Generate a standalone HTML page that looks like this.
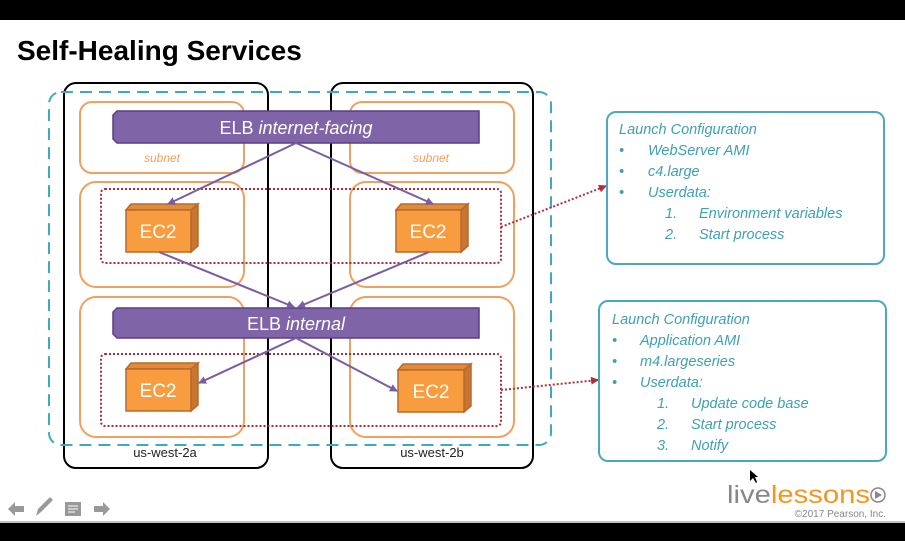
<!DOCTYPE html>
<html><head><meta charset="utf-8"><style>
body{margin:0;width:905px;height:541px;overflow:hidden;background:#fff;font-family:"Liberation Sans",sans-serif}
</style></head><body>
<svg width="905" height="541" xmlns="http://www.w3.org/2000/svg" font-family="Liberation Sans, sans-serif">
<defs>
<marker id="pa" markerWidth="8" markerHeight="8" refX="7" refY="4" orient="auto" markerUnits="userSpaceOnUse"><path d="M0,0 L8,4 L0,8 Z" fill="#7a5ca3"/></marker>
<marker id="ra" markerWidth="8" markerHeight="8" refX="7" refY="4" orient="auto" markerUnits="userSpaceOnUse"><path d="M0,0 L8,4 L0,8 Z" fill="#b0303a"/></marker>
</defs>
<rect x="0" y="0" width="905" height="20" fill="#000"/>
<rect x="0" y="523" width="905" height="18" fill="#000"/>
<line x1="0" y1="522" x2="905" y2="522" stroke="#888"/>
<text x="17" y="60" font-size="28" font-weight="bold" fill="#000">Self-Healing Services</text>

<rect x="64" y="83" width="204" height="385" rx="12" fill="none" stroke="#000" stroke-width="2"/>
<rect x="331" y="83" width="202" height="385" rx="12" fill="none" stroke="#000" stroke-width="2"/>
<text x="165" y="457" font-size="13" text-anchor="middle" fill="#222">us-west-2a</text>
<text x="432" y="457" font-size="13" text-anchor="middle" fill="#222">us-west-2b</text>
<rect x="49" y="92" width="502" height="353" rx="12" fill="none" stroke="#3fa9c0" stroke-width="2" stroke-dasharray="12,7"/>
<g fill="none" stroke="#f0a060" stroke-width="2">
<rect x="80" y="102" width="164" height="71" rx="12"/>
<rect x="80" y="182" width="164" height="105" rx="16"/>
<rect x="80" y="297" width="164" height="140" rx="16"/>
<rect x="350" y="102" width="164" height="71" rx="12"/>
<rect x="350" y="182" width="164" height="105" rx="16"/>
<rect x="350" y="297" width="164" height="140" rx="16"/>
</g>
<text x="162" y="162" font-size="12" font-style="italic" fill="#f0a060" text-anchor="middle">subnet</text>
<text x="431" y="162" font-size="12" font-style="italic" fill="#f0a060" text-anchor="middle">subnet</text>
<rect x="101" y="189" width="400" height="74" rx="4" fill="none" stroke="#a0303c" stroke-width="2" stroke-dasharray="2,2"/>
<rect x="101" y="354" width="400" height="72" rx="4" fill="none" stroke="#a0303c" stroke-width="2" stroke-dasharray="2,2"/>
<path d="M117,111 L479,111 L479,143 L117,143 L113,139 L113,115 Z" fill="#8064a8" stroke="#5a3f85" stroke-width="1.5"/>
<text x="296" y="134" font-size="18" fill="#fff" text-anchor="middle">ELB <tspan font-style="italic">internet-facing</tspan></text>
<path d="M117,308 L479,308 L479,338 L117,338 L113,334 L113,312 Z" fill="#8064a8" stroke="#5a3f85" stroke-width="1.5"/>
<text x="296" y="330" font-size="18" fill="#fff" text-anchor="middle">ELB <tspan font-style="italic">internal</tspan></text>
<g stroke="#b8692a" stroke-width="1.5">
<path d="M126,210 L131,204 L198,204 L191,210 Z" fill="#e08a3c"/><path d="M191,210 L198,204 L198,246 L191,252 Z" fill="#c87530"/><rect x="126" y="210" width="65" height="42" fill="#f89c40"/>
<path d="M396,210 L401,204 L468,204 L461,210 Z" fill="#e08a3c"/><path d="M461,210 L468,204 L468,246 L461,252 Z" fill="#c87530"/><rect x="396" y="210" width="65" height="42" fill="#f89c40"/>
<path d="M126,369 L131,363 L198,363 L191,369 Z" fill="#e08a3c"/><path d="M191,369 L198,363 L198,405 L191,411 Z" fill="#c87530"/><rect x="126" y="369" width="65" height="42" fill="#f89c40"/>
<path d="M398,370 L403,364 L471,364 L464,370 Z" fill="#e08a3c"/><path d="M464,370 L471,364 L471,406 L464,412 Z" fill="#c87530"/><rect x="398" y="370" width="66" height="42" fill="#f89c40"/>
</g>
<g font-size="19" fill="#fff" text-anchor="middle">
<text x="158" y="238">EC2</text><text x="428" y="238">EC2</text>
<text x="158" y="397">EC2</text><text x="431" y="398">EC2</text>
</g>
<g stroke="#7a5ca3" stroke-width="2" fill="none">
<line x1="296" y1="143" x2="168" y2="204" marker-end="url(#pa)"/>
<line x1="296" y1="143" x2="433" y2="204" marker-end="url(#pa)"/>
<line x1="159" y1="252" x2="294" y2="307" marker-end="url(#pa)"/>
<line x1="429" y1="252" x2="298" y2="307" marker-end="url(#pa)"/>
<line x1="296" y1="338" x2="199" y2="383" marker-end="url(#pa)"/>
<line x1="296" y1="338" x2="397" y2="391" marker-end="url(#pa)"/>
</g>
<g stroke="#b0303a" stroke-width="2" stroke-dasharray="2,2" fill="none">
<line x1="501" y1="227" x2="606" y2="186" marker-end="url(#ra)"/>
<line x1="501" y1="390" x2="598" y2="380" marker-end="url(#ra)"/>
</g>
<rect x="607" y="112" width="277" height="152" rx="9" fill="none" stroke="#4aa9bf" stroke-width="2"/>
<rect x="599" y="301" width="287" height="160" rx="9" fill="none" stroke="#4aa9bf" stroke-width="2"/>
<g font-size="14.5" font-style="italic" fill="#3f9fb4">
<text x="619" y="134">Launch Configuration</text>
<text x="619" y="155">•</text><text x="648" y="155">WebServer AMI</text>
<text x="619" y="176">•</text><text x="648" y="176">c4.large</text>
<text x="619" y="197">•</text><text x="648" y="197">Userdata:</text>
<text x="665" y="218">1.</text><text x="699" y="218">Environment variables</text>
<text x="665" y="239">2.</text><text x="699" y="239">Start process</text>
<text x="612" y="324">Launch Configuration</text>
<text x="612" y="345">•</text><text x="640" y="345">Application AMI</text>
<text x="612" y="366">•</text><text x="640" y="366">m4.largeseries</text>
<text x="612" y="387">•</text><text x="640" y="387">Userdata:</text>
<text x="657" y="408">1.</text><text x="691" y="408">Update code base</text>
<text x="657" y="429">2.</text><text x="691" y="429">Start process</text>
<text x="657" y="450">3.</text><text x="691" y="450">Notify</text>
</g>
<g fill="#999">
<path d="M8,509 L15,502 L15,506 L24,506 L24,512 L15,512 L15,516 Z"/>
<path d="M36,516 L38,509 L50,497 L53,500 L41,512 Z"/>
<rect x="65" y="502" width="16" height="14"/>
<path d="M110,509 L103,502 L103,506 L94,506 L94,512 L103,512 L103,516 Z"/>
</g>
<g stroke="#fff" stroke-width="1"><line x1="68" y1="506" x2="78" y2="506"/><line x1="68" y1="509" x2="78" y2="509"/><line x1="68" y1="512" x2="75" y2="512"/></g>
<text x="727" y="503" font-size="25" fill="#888" textLength="143" lengthAdjust="spacingAndGlyphs">live<tspan fill="#f7941d">lessons</tspan></text>
<circle cx="878" cy="495" r="7" fill="none" stroke="#888" stroke-width="1.5"/>
<path d="M875,491 L882,495 L875,499 Z" fill="#888"/>
<text x="886" y="517" font-size="10" fill="#888" text-anchor="end">©2017 Pearson, Inc.</text>
<path d="M750,470 L750,481 L753,478 L756,483 L757,482 L755,477 L758,477 Z" fill="#000"/>
</svg>
</body></html>
